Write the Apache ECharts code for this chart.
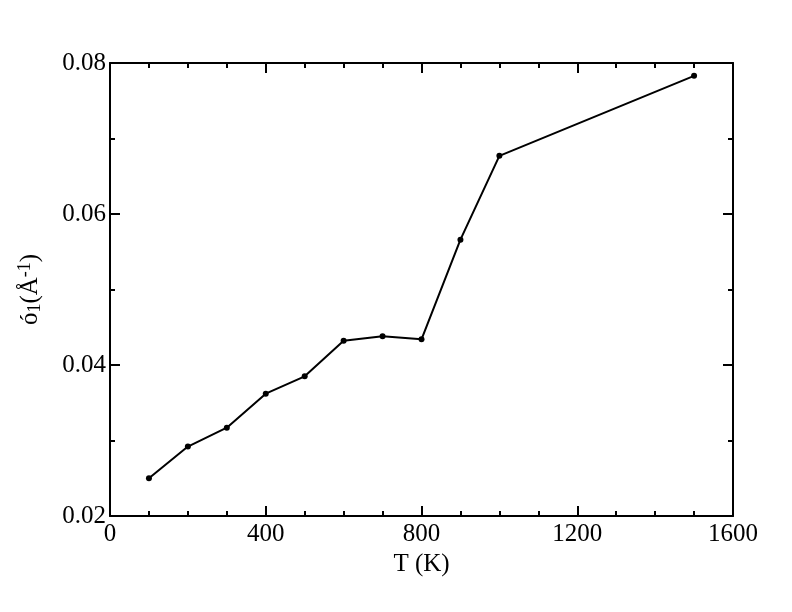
<!DOCTYPE html>
<html><head><meta charset="utf-8">
<script src="https://cdn.jsdelivr.net/npm/echarts@6/dist/echarts.min.js"></script>
<style>html,body{margin:0;padding:0;background:#fff}#c{width:792px;height:612px}</style>
</head><body><div id="c"></div>
<script>
const temperatures = [100, 200, 300, 400, 500, 600, 700, 800, 900, 1000, 1500];
const sigmaValues = [0.0250, 0.0292, 0.0317, 0.0362, 0.0385, 0.0432, 0.0438, 0.0434, 0.0566, 0.0677, 0.0783];
const xTicks = [0, 400, 800, 1200, 1600];
const yTicks = [0.02, 0.04, 0.06, 0.08];

const font = 'Liberation Serif';
const fs = 25;
const chart = echarts.init(document.getElementById('c'), null, {renderer: 'canvas'});
const lineStyle = {color: '#000', width: 2};
const baseX = {
  type: 'value', min: 0, max: 1600, interval: 400,
  axisLine: {show: true, onZero: false, lineStyle: lineStyle},
  axisTick: {show: true, inside: true, length: 10, lineStyle: lineStyle},
  minorTick: {show: true, splitNumber: 4, length: 5, lineStyle: lineStyle},
  splitLine: {show: false}
};
const baseY = {
  type: 'value', min: 0.02, max: 0.08, interval: 0.02,
  axisLine: {show: true, onZero: false, lineStyle: lineStyle},
  axisTick: {show: true, inside: true, length: 10, lineStyle: lineStyle},
  minorTick: {show: true, splitNumber: 2, length: 5, lineStyle: lineStyle},
  splitLine: {show: false}
};
chart.setOption({
  animation: false,
  backgroundColor: '#fff',
  grid: {left: 110, right: 59, top: 63, bottom: 96},
  xAxis: [
    Object.assign({}, baseX, {
      position: 'bottom',
      axisLabel: {show: true, color: '#000', fontFamily: font, fontSize: fs, margin: 6,
        formatter: v => xTicks.includes(v) ? String(v) : ''},
      name: 'T (K)', nameLocation: 'middle', nameGap: 36,
      nameTextStyle: {color: '#000', fontFamily: font, fontSize: fs}
    }),
    Object.assign({}, baseX, {position: 'top', axisLabel: {show: false}})
  ],
  yAxis: [
    Object.assign({}, baseY, {
      position: 'left',
      axisLabel: {show: true, color: '#000', fontFamily: font, fontSize: fs, margin: 4,
        formatter: v => yTicks.some(t => Math.abs(t - v) < 1e-9) ? v.toFixed(2) : ''},
      name: '{m|ó}{sub|1}{m|(Å}{sup|-1}{m|)}', nameLocation: 'middle', nameGap: 66, nameRotate: 90,
      nameTextStyle: {color: '#000', fontFamily: font, fontSize: fs,
        rich: {
          m: {fontFamily: font, fontSize: fs, color: '#000'},
          sub: {fontFamily: font, fontSize: 18, color: '#000', verticalAlign: 'bottom', padding: [10, 0, 0, 0]},
          sup: {fontFamily: font, fontSize: 18, color: '#000', verticalAlign: 'top', padding: [0, 0, 10, 0]}
        }}
    }),
    Object.assign({}, baseY, {position: 'right', axisLabel: {show: false}})
  ],
  series: [{
    type: 'line',
    data: temperatures.map((t, i) => [t, sigmaValues[i]]),
    xAxisIndex: 0, yAxisIndex: 0,
    symbol: 'circle', symbolSize: 6,
    itemStyle: {color: '#000'},
    lineStyle: {color: '#000', width: 2}
  }]
});
</script></body></html>
